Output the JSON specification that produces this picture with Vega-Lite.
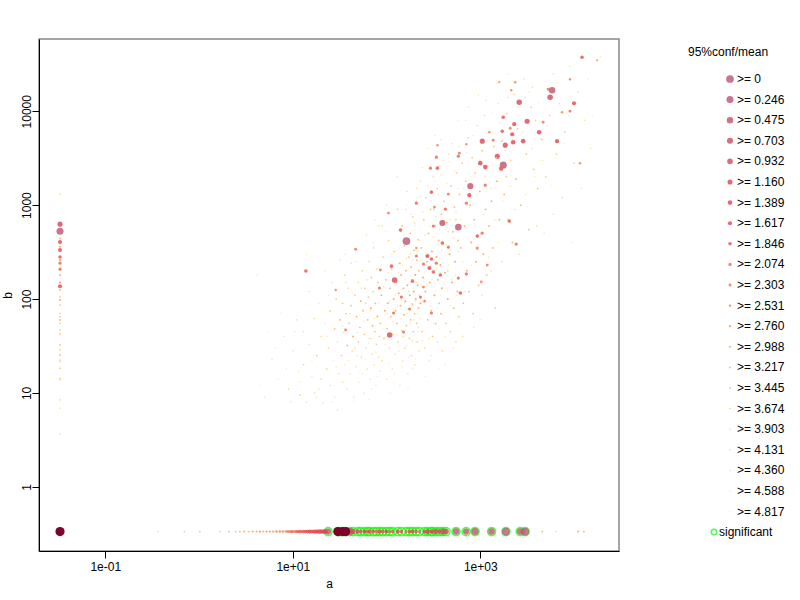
{
"$schema": "https://vega.github.io/schema/vega-lite/v6.json",
"width": 580, "height": 512,
"autosize": "none",
"padding": {"left": 39, "top": 39, "right": 181, "bottom": 49},
"background": "white",
"config": {
  "font": "Liberation Sans",
  "view": {"stroke": "#888888", "strokeWidth": 1.5},
  "axis": {"grid": false, "domainColor": "#000000", "tickColor": "#000000", "labelColor": "#000000", "titleColor": "#000000", "labelFontSize": 12, "titleFontSize": 12, "titleFontWeight": "normal", "tickSize": 7, "labelFont": "Liberation Sans", "titleFont": "Liberation Sans"},
  "legend": {"labelFontSize": 12, "titleFontSize": 12, "titleFontWeight": "normal", "labelColor": "#000000", "titleColor": "#000000", "padding": 0, "labelFont": "Liberation Sans", "titleFont": "Liberation Sans"}
},
"data": {"values": [
{"a":163,"b":414,"k":0},{"a":1757,"b":2665,"k":1},{"a":583,"b":583,"k":2},{"a":5834,"b":16720,"k":2},{"a":5560,"b":14090,"k":4},{"a":2600,"b":12470,"k":4},{"a":783,"b":1592,"k":3},{"a":394,"b":644,"k":3},{"a":122,"b":159,"k":4},{"a":108,"b":41.4,"k":4},{"a":1517,"b":3320,"k":5},{"a":1050,"b":4800,"k":5},{"a":1845,"b":4350,"k":5},{"a":2244,"b":4680,"k":6},{"a":2866,"b":4800,"k":6},{"a":3162,"b":7830,"k":5},{"a":4246,"b":5980,"k":6},{"a":6590,"b":4800,"k":7},{"a":10000,"b":12170,"k":7},{"a":12170,"b":37500,"k":8},{"a":2190,"b":5690,"k":7},{"a":1714,"b":6120,"k":8},{"a":2300,"b":7280,"k":7},{"a":1757,"b":8630,"k":8},{"a":1000,"b":2800,"k":6},{"a":1130,"b":2540,"k":6},{"a":764,"b":1277,"k":7},{"a":301,"b":1375,"k":8},{"a":340,"b":3240,"k":9},{"a":583,"b":3320,"k":9},{"a":294,"b":2477,"k":9},{"a":349,"b":2477,"k":8},{"a":1672,"b":2415,"k":8},{"a":1130,"b":1633,"k":9},{"a":710,"b":1050,"k":9},{"a":324,"b":953,"k":10},{"a":424,"b":906,"k":9},{"a":457,"b":1309,"k":10},{"a":208,"b":1050,"k":9},{"a":141,"b":542,"k":8},{"a":105,"b":822,"k":10},{"a":316,"b":598,"k":9},{"a":273,"b":287,"k":7},{"a":287,"b":214,"k":7},{"a":316,"b":194,"k":8},{"a":375,"b":180,"k":8},{"a":301,"b":267,"k":8},{"a":340,"b":241,"k":9},{"a":394,"b":394,"k":8},{"a":457,"b":357,"k":9},{"a":248,"b":236,"k":9},{"a":189,"b":155,"k":8},{"a":113,"b":224,"k":8},{"a":929,"b":468,"k":8},{"a":1050,"b":504,"k":9},{"a":929,"b":349,"k":9},{"a":2036,"b":676,"k":8},{"a":2415,"b":385,"k":9},{"a":613,"b":116,"k":8},{"a":710,"b":185,"k":9},{"a":583,"b":167,"k":9},{"a":248,"b":134,"k":10},{"a":144,"b":105,"k":9},{"a":208,"b":287,"k":9},{"a":86,"b":204,"k":10},{"a":46.8,"b":340,"k":10},{"a":13.8,"b":199,"k":8},{"a":119,"b":71,"k":9},{"a":152,"b":44.6,"k":9},{"a":36.6,"b":46.8,"k":10},{"a":28.7,"b":125,"k":11},{"a":176,"b":78.3,"k":9},{"a":230,"b":105,"k":9},{"a":254,"b":95,"k":10},{"a":301,"b":71,"k":9},{"a":1187,"b":230,"k":10},{"a":1025,"b":152,"k":10},{"a":4680,"b":7640,"k":10},{"a":7450,"b":9750,"k":11},{"a":9060,"b":10000,"k":10},{"a":11590,"b":2800,"k":11},{"a":9060,"b":21900,"k":11},{"a":17570,"b":34900,"k":12},{"a":5290,"b":17140,"k":10},{"a":2356,"b":20370,"k":11},{"a":1592,"b":20370,"k":12},{"a":2138,"b":16720,"k":11},{"a":349,"b":4350,"k":11},{"a":598,"b":3575,"k":10},{"a":710,"b":4460,"k":11},{"a":1375,"b":4910,"k":10},{"a":1247,"b":5980,"k":11},{"a":2084,"b":6590,"k":10},{"a":1633,"b":2477,"k":10},{"a":84,"b":131,"k":9},{"a":208,"b":349,"k":11},
{"a":4.2,"b":180,"k":18},{"a":5,"b":9,"k":19},{"a":6,"b":23,"k":18},{"a":7,"b":14,"k":20},{"a":8,"b":40,"k":19},{"a":9,"b":11,"k":17},{"a":10,"b":28,"k":19},{"a":11,"b":60,"k":18},{"a":11.5,"b":17,"k":20},{"a":5.5,"b":45,"k":21},{"a":7.5,"b":70,"k":20},{"a":9.5,"b":8,"k":19},{"a":12,"b":9.5,"k":16},{"a":4.5,"b":12,"k":21},
{"a":13,"b":20,"k":17},{"a":13,"b":45,"k":19},{"a":14,"b":8,"k":18},{"a":15,"b":120,"k":18},{"a":15,"b":33,"k":19},{"a":16,"b":15,"k":20},{"a":17,"b":62,"k":17},{"a":17,"b":10,"k":18},{"a":18,"b":25,"k":16},{"a":19,"b":90,"k":19},{"a":20,"b":40,"k":18},{"a":20,"b":14,"k":17},{"a":21,"b":7.8,"k":19},{"a":22,"b":55,"k":20},{"a":22,"b":200,"k":19},{"a":23,"b":18,"k":16},{"a":24,"b":30,"k":17},{"a":25,"b":75,"k":15},{"a":25,"b":12,"k":19},{"a":26,"b":150,"k":18},{"a":27,"b":22,"k":20},{"a":28,"b":48,"k":15},{"a":28,"b":9,"k":19},{"a":29,"b":100,"k":16},{"a":30,"b":35,"k":18},{"a":30,"b":6.6,"k":19},{"a":31,"b":16,"k":17},{"a":32,"b":60,"k":14},{"a":32,"b":260,"k":19},{"a":14,"b":300,"k":21},{"a":18,"b":9,"k":20},{"a":24,"b":110,"k":21},
{"a":33,"b":25,"k":16},{"a":34,"b":90,"k":15},{"a":34,"b":13,"k":18},{"a":35,"b":44,"k":17},{"a":36,"b":180,"k":16},{"a":36,"b":20,"k":19},{"a":37,"b":70,"k":15},{"a":38,"b":11,"k":18},{"a":38,"b":32,"k":14},{"a":39,"b":130,"k":17},{"a":40,"b":55,"k":16},{"a":41,"b":16,"k":19},{"a":42,"b":240,"k":18},{"a":42,"b":85,"k":15},{"a":43,"b":28,"k":17},{"a":44,"b":40,"k":13},{"a":45,"b":9,"k":19},{"a":46,"b":110,"k":16},{"a":47,"b":19,"k":18},{"a":48,"b":65,"k":14},{"a":49,"b":330,"k":19},{"a":50,"b":35,"k":16},{"a":50,"b":150,"k":17},{"a":51,"b":13,"k":20},{"a":52,"b":50,"k":15},{"a":53,"b":95,"k":13},{"a":54,"b":24,"k":17},{"a":55,"b":200,"k":16},{"a":56,"b":75,"k":14},{"a":57,"b":10,"k":19},{"a":58,"b":42,"k":15},{"a":59,"b":130,"k":16},{"a":60,"b":30,"k":18},{"a":61,"b":480,"k":18},{"a":62,"b":18,"k":17},{"a":63,"b":60,"k":14},{"a":64,"b":105,"k":15},{"a":65,"b":250,"k":17},{"a":66,"b":38,"k":16},{"a":67,"b":14,"k":19},{"a":68,"b":80,"k":13},{"a":69,"b":170,"k":15},{"a":70,"b":26,"k":17},{"a":71,"b":52,"k":14},{"a":72,"b":120,"k":16},{"a":73,"b":350,"k":17},{"a":74,"b":20,"k":18},{"a":75,"b":45,"k":15},{"a":76,"b":90,"k":14},{"a":77,"b":12,"k":19},{"a":78,"b":33,"k":16},{"a":79,"b":210,"k":16},{"a":80,"b":65,"k":13},{"a":81,"b":150,"k":15},{"a":82,"b":24,"k":17},{"a":83,"b":600,"k":19},{"a":84,"b":40,"k":16},{"a":36,"b":300,"k":20},{"a":45,"b":8,"k":21},{"a":55,"b":16,"k":20},{"a":65,"b":8.5,"k":20},{"a":75,"b":700,"k":20},{"a":60,"b":90,"k":17},{"a":48,"b":25,"k":19},{"a":70,"b":38,"k":20},{"a":80,"b":15,"k":21},
{"a":86,"b":55,"k":15},{"a":88,"b":110,"k":14},{"a":90,"b":22,"k":17},{"a":92,"b":280,"k":16},{"a":94,"b":38,"k":15},{"a":96,"b":75,"k":13},{"a":98,"b":160,"k":14},{"a":100,"b":14,"k":18},{"a":101,"b":48,"k":15},{"a":103,"b":90,"k":13},{"a":105,"b":420,"k":16},{"a":107,"b":30,"k":17},{"a":109,"b":130,"k":14},{"a":111,"b":65,"k":14},{"a":113,"b":210,"k":15},{"a":115,"b":18,"k":18},{"a":117,"b":42,"k":16},{"a":119,"b":100,"k":13},{"a":121,"b":320,"k":15},{"a":123,"b":26,"k":17},{"a":125,"b":75,"k":14},{"a":127,"b":150,"k":13},{"a":129,"b":55,"k":15},{"a":131,"b":900,"k":17},{"a":133,"b":35,"k":16},{"a":135,"b":115,"k":13},{"a":137,"b":240,"k":14},{"a":139,"b":12,"k":19},{"a":141,"b":85,"k":14},{"a":143,"b":180,"k":13},{"a":145,"b":46,"k":15},{"a":147,"b":600,"k":16},{"a":149,"b":22,"k":18},{"a":151,"b":130,"k":14},{"a":153,"b":68,"k":14},{"a":155,"b":370,"k":15},{"a":157,"b":30,"k":17},{"a":159,"b":95,"k":13},{"a":161,"b":200,"k":14},{"a":163,"b":52,"k":15},{"a":165,"b":1400,"k":18},{"a":167,"b":140,"k":13},{"a":169,"b":16,"k":19},{"a":171,"b":78,"k":14},{"a":173,"b":280,"k":15},{"a":175,"b":38,"k":16},{"a":177,"b":110,"k":13},{"a":179,"b":500,"k":15},{"a":181,"b":60,"k":14},{"a":183,"b":220,"k":14},{"a":185,"b":25,"k":17},{"a":187,"b":160,"k":13},{"a":189,"b":88,"k":14},{"a":191,"b":750,"k":16},{"a":193,"b":45,"k":15},{"a":195,"b":120,"k":13},{"a":197,"b":330,"k":14},{"a":199,"b":70,"k":14},{"a":201,"b":20,"k":18},{"a":203,"b":180,"k":13},{"a":205,"b":100,"k":13},{"a":207,"b":1100,"k":17},{"a":209,"b":55,"k":15},{"a":211,"b":260,"k":14},{"a":213,"b":35,"k":16},{"a":215,"b":140,"k":13},{"a":217,"b":430,"k":15},{"a":219,"b":80,"k":14},{"a":221,"b":200,"k":14},{"a":223,"b":28,"k":17},{"a":90,"b":600,"k":19},{"a":100,"b":1000,"k":20},{"a":110,"b":10,"k":20},{"a":120,"b":13,"k":21},{"a":130,"b":2000,"k":20},{"a":140,"b":240,"k":16},{"a":150,"b":40,"k":19},{"a":160,"b":900,"k":19},{"a":170,"b":11,"k":21},{"a":180,"b":300,"k":19},{"a":190,"b":18,"k":20},{"a":200,"b":650,"k":18},{"a":210,"b":1500,"k":19},{"a":220,"b":50,"k":19},
{"a":230,"b":90,"k":13},{"a":235,"b":350,"k":14},{"a":240,"b":45,"k":15},{"a":245,"b":170,"k":13},{"a":250,"b":700,"k":15},{"a":255,"b":30,"k":17},{"a":260,"b":120,"k":13},{"a":265,"b":1200,"k":16},{"a":270,"b":250,"k":14},{"a":275,"b":60,"k":14},{"a":280,"b":500,"k":14},{"a":285,"b":22,"k":18},{"a":290,"b":150,"k":13},{"a":295,"b":900,"k":15},{"a":300,"b":75,"k":14},{"a":305,"b":320,"k":13},{"a":310,"b":40,"k":16},{"a":315,"b":2000,"k":17},{"a":320,"b":200,"k":13},{"a":325,"b":110,"k":13},{"a":330,"b":600,"k":14},{"a":335,"b":55,"k":15},{"a":340,"b":280,"k":13},{"a":345,"b":1500,"k":16},{"a":350,"b":35,"k":17},{"a":355,"b":160,"k":13},{"a":360,"b":420,"k":14},{"a":365,"b":90,"k":14},{"a":370,"b":2600,"k":17},{"a":375,"b":230,"k":13},{"a":380,"b":70,"k":14},{"a":385,"b":800,"k":15},{"a":390,"b":130,"k":13},{"a":395,"b":28,"k":17},{"a":400,"b":380,"k":14},{"a":410,"b":1100,"k":15},{"a":420,"b":190,"k":13},{"a":430,"b":55,"k":15},{"a":440,"b":650,"k":14},{"a":450,"b":100,"k":13},{"a":460,"b":3500,"k":17},{"a":470,"b":300,"k":13},{"a":480,"b":45,"k":16},{"a":490,"b":1600,"k":15},{"a":500,"b":150,"k":13},{"a":510,"b":520,"k":14},{"a":520,"b":80,"k":14},{"a":530,"b":950,"k":15},{"a":540,"b":250,"k":13},{"a":550,"b":35,"k":17},{"a":560,"b":2200,"k":16},{"a":570,"b":120,"k":13},{"a":580,"b":420,"k":14},{"a":590,"b":65,"k":15},{"a":600,"b":1300,"k":15},{"a":240,"b":2500,"k":19},{"a":260,"b":15,"k":21},{"a":280,"b":4000,"k":20},{"a":300,"b":25,"k":20},{"a":330,"b":5500,"k":20},{"a":360,"b":18,"k":21},{"a":400,"b":3000,"k":19},{"a":450,"b":200,"k":16},{"a":500,"b":4500,"k":18},{"a":550,"b":700,"k":16},{"a":230,"b":1800,"k":18},{"a":320,"b":900,"k":16},{"a":380,"b":5000,"k":19},{"a":420,"b":20,"k":20},{"a":520,"b":30,"k":21},{"a":580,"b":8000,"k":20},
{"a":620,"b":350,"k":14},{"a":640,"b":2800,"k":16},{"a":660,"b":90,"k":14},{"a":680,"b":600,"k":14},{"a":700,"b":1800,"k":15},{"a":720,"b":200,"k":13},{"a":740,"b":5200,"k":17},{"a":760,"b":120,"k":14},{"a":780,"b":1000,"k":14},{"a":800,"b":400,"k":13},{"a":820,"b":3200,"k":16},{"a":840,"b":70,"k":15},{"a":860,"b":700,"k":14},{"a":880,"b":2200,"k":15},{"a":900,"b":250,"k":13},{"a":930,"b":7000,"k":17},{"a":960,"b":140,"k":14},{"a":990,"b":1400,"k":14},{"a":1020,"b":500,"k":13},{"a":1050,"b":3800,"k":15},{"a":1080,"b":300,"k":13},{"a":1110,"b":9000,"k":17},{"a":1140,"b":900,"k":14},{"a":1170,"b":180,"k":14},{"a":1200,"b":2600,"k":15},{"a":1240,"b":600,"k":14},{"a":1280,"b":6000,"k":16},{"a":1320,"b":1100,"k":14},{"a":1360,"b":350,"k":14},{"a":1400,"b":4200,"k":15},{"a":1450,"b":80,"k":16},{"a":1500,"b":1800,"k":14},{"a":1550,"b":12000,"k":18},{"a":1600,"b":700,"k":14},{"a":650,"b":40,"k":18},{"a":750,"b":11000,"k":19},{"a":850,"b":50,"k":19},{"a":950,"b":15000,"k":20},{"a":1050,"b":110,"k":18},{"a":1150,"b":13000,"k":19},{"a":1300,"b":200,"k":17},{"a":1500,"b":20000,"k":20},{"a":700,"b":8000,"k":19},{"a":1000,"b":60,"k":20},
{"a":1700,"b":4800,"k":15},{"a":1800,"b":1300,"k":14},{"a":1900,"b":9500,"k":16},{"a":2000,"b":700,"k":14},{"a":2100,"b":3000,"k":15},{"a":2200,"b":400,"k":14},{"a":2300,"b":15000,"k":17},{"a":2400,"b":1900,"k":14},{"a":2500,"b":6500,"k":15},{"a":2700,"b":1000,"k":14},{"a":2900,"b":22000,"k":18},{"a":3100,"b":3500,"k":15},{"a":3300,"b":550,"k":15},{"a":3500,"b":11000,"k":16},{"a":3700,"b":2400,"k":15},{"a":3900,"b":8000,"k":16},{"a":4100,"b":1500,"k":15},{"a":1700,"b":250,"k":17},{"a":2000,"b":25000,"k":20},{"a":2600,"b":300,"k":18},{"a":3000,"b":14000,"k":17},{"a":3600,"b":18000,"k":18},{"a":4000,"b":600,"k":17},{"a":2300,"b":5500,"k":16},{"a":1900,"b":2000,"k":15},
{"a":4500,"b":5000,"k":15},{"a":5000,"b":2000,"k":16},{"a":5500,"b":9000,"k":16},{"a":6000,"b":25000,"k":18},{"a":6500,"b":3500,"k":16},{"a":7000,"b":12000,"k":17},{"a":7500,"b":1200,"k":17},{"a":8000,"b":6000,"k":16},{"a":9000,"b":30000,"k":19},{"a":10000,"b":2800,"k":17},{"a":11000,"b":16000,"k":18},{"a":13000,"b":8000,"k":18},{"a":15000,"b":4000,"k":19},{"a":4800,"b":500,"k":19},{"a":6000,"b":800,"k":19},{"a":9500,"b":400,"k":20},{"a":12000,"b":1500,"k":20},{"a":19000,"b":38000,"k":19},
{"a":34,"b":52,"k":20},{"a":37,"b":150,"k":19},{"a":39,"b":22,"k":21},{"a":41,"b":70,"k":18},{"a":43,"b":115,"k":20},{"a":46,"b":30,"k":19},{"a":47,"b":250,"k":21},{"a":49,"b":44,"k":20},{"a":52,"b":17,"k":21},{"a":54,"b":130,"k":19},{"a":57,"b":58,"k":20},{"a":59,"b":23,"k":21},{"a":62,"b":160,"k":19},{"a":64,"b":34,"k":20},{"a":67,"b":75,"k":19},{"a":69,"b":11,"k":21},{"a":72,"b":400,"k":20},{"a":74,"b":62,"k":19},{"a":77,"b":27,"k":20},{"a":79,"b":140,"k":21},{"a":83,"b":90,"k":20},{"a":85,"b":17,"k":19},{"a":88,"b":230,"k":20},{"a":91,"b":48,"k":21},{"a":93,"b":135,"k":19},{"a":97,"b":33,"k":20},{"a":99,"b":520,"k":21},{"a":102,"b":70,"k":19},{"a":104,"b":190,"k":20},{"a":106,"b":21,"k":21},{"a":108,"b":95,"k":19},{"a":112,"b":38,"k":20},{"a":114,"b":300,"k":19},{"a":116,"b":58,"k":21},{"a":118,"b":150,"k":20},{"a":122,"b":16,"k":19},{"a":124,"b":110,"k":20},{"a":126,"b":620,"k":21},{"a":128,"b":42,"k":19},{"a":132,"b":85,"k":20},{"a":134,"b":190,"k":21},{"a":136,"b":28,"k":19},{"a":138,"b":350,"k":20},{"a":142,"b":62,"k":21},{"a":144,"b":125,"k":19},{"a":146,"b":19,"k":20},{"a":148,"b":230,"k":19},{"a":152,"b":40,"k":20},{"a":154,"b":480,"k":21},{"a":156,"b":92,"k":19},{"a":158,"b":160,"k":20},{"a":162,"b":32,"k":21},{"a":164,"b":270,"k":19},{"a":166,"b":70,"k":20},{"a":168,"b":1000,"k":21},{"a":172,"b":120,"k":19},{"a":174,"b":24,"k":20},{"a":176,"b":380,"k":19},{"a":178,"b":55,"k":21},{"a":182,"b":175,"k":20},{"a":184,"b":800,"k":19},{"a":186,"b":85,"k":21},{"a":188,"b":36,"k":19},{"a":192,"b":260,"k":20},{"a":194,"b":130,"k":21},{"a":196,"b":60,"k":19},{"a":198,"b":540,"k":20},{"a":202,"b":95,"k":19},{"a":204,"b":23,"k":21},{"a":206,"b":330,"k":20},{"a":208,"b":150,"k":19},{"a":212,"b":70,"k":20},{"a":214,"b":1200,"k":19},{"a":216,"b":45,"k":21},{"a":218,"b":200,"k":20},{"a":222,"b":110,"k":19},{"a":226,"b":420,"k":21},{"a":228,"b":62,"k":20},{"a":232,"b":260,"k":19},{"a":236,"b":140,"k":20},{"a":238,"b":36,"k":21},{"a":242,"b":850,"k":19},{"a":246,"b":95,"k":20},{"a":252,"b":190,"k":21},{"a":256,"b":480,"k":19},{"a":262,"b":70,"k":20},{"a":266,"b":300,"k":19},{"a":272,"b":140,"k":21},{"a":276,"b":1600,"k":20},{"a":282,"b":38,"k":19},{"a":286,"b":600,"k":20},{"a":292,"b":230,"k":21},{"a":296,"b":85,"k":19},{"a":302,"b":1100,"k":20},{"a":306,"b":160,"k":19},{"a":312,"b":460,"k":21},{"a":318,"b":55,"k":20},{"a":322,"b":260,"k":19},{"a":328,"b":1800,"k":21},{"a":334,"b":120,"k":20},{"a":338,"b":750,"k":19},{"a":344,"b":210,"k":20},{"a":348,"b":80,"k":21},{"a":352,"b":380,"k":19},{"a":358,"b":1300,"k":20},{"a":362,"b":48,"k":21},{"a":368,"b":550,"k":19},{"a":372,"b":190,"k":20},{"a":378,"b":110,"k":21},{"a":382,"b":2100,"k":19},{"a":388,"b":330,"k":20},{"a":392,"b":68,"k":19},{"a":398,"b":900,"k":21},{"a":405,"b":240,"k":20},{"a":412,"b":150,"k":19},{"a":418,"b":600,"k":20},{"a":424,"b":40,"k":21},{"a":432,"b":380,"k":19},{"a":438,"b":1700,"k":20},{"a":444,"b":130,"k":21},{"a":452,"b":520,"k":19},{"a":458,"b":230,"k":20},{"a":464,"b":2900,"k":21},{"a":472,"b":85,"k":19},{"a":478,"b":700,"k":20},{"a":486,"b":330,"k":21},{"a":494,"b":160,"k":19},{"a":502,"b":1200,"k":20},{"a":512,"b":60,"k":21},{"a":522,"b":450,"k":19},{"a":532,"b":2300,"k":20},{"a":542,"b":180,"k":21},{"a":552,"b":850,"k":19},{"a":562,"b":110,"k":20},{"a":572,"b":1500,"k":21},{"a":584,"b":320,"k":19},{"a":596,"b":4200,"k":20},{"a":610,"b":55,"k":21},{"a":625,"b":700,"k":19},{"a":645,"b":250,"k":20},{"a":665,"b":1500,"k":21},{"a":690,"b":120,"k":19},{"a":715,"b":3600,"k":20},{"a":735,"b":450,"k":21},{"a":765,"b":950,"k":19},{"a":790,"b":2000,"k":20},{"a":815,"b":230,"k":21},{"a":845,"b":5500,"k":19},{"a":875,"b":600,"k":20},{"a":905,"b":1300,"k":21},{"a":945,"b":350,"k":19},{"a":985,"b":3000,"k":20},{"a":1030,"b":150,"k":21},{"a":1075,"b":800,"k":19},{"a":1125,"b":2000,"k":20},{"a":1180,"b":4800,"k":21},{"a":1230,"b":280,"k":19},{"a":1290,"b":1500,"k":20},{"a":1350,"b":9500,"k":21},{"a":1420,"b":700,"k":19},{"a":1480,"b":3200,"k":20},{"a":1560,"b":400,"k":21},{"a":1650,"b":7500,"k":19},{"a":1750,"b":1100,"k":20},{"a":1850,"b":3800,"k":21},{"a":1960,"b":14000,"k":19},{"a":2080,"b":1600,"k":20},{"a":2200,"b":5000,"k":21},{"a":2350,"b":900,"k":19},{"a":2500,"b":11000,"k":20},{"a":2650,"b":2800,"k":21},{"a":2850,"b":6000,"k":19},{"a":3050,"b":1300,"k":20},{"a":3300,"b":16000,"k":21},{"a":3550,"b":4000,"k":19},{"a":3800,"b":2000,"k":20},{"a":4200,"b":12000,"k":21},{"a":4600,"b":3000,"k":19},{"a":5200,"b":7000,"k":20},{"a":5800,"b":1600,"k":21},{"a":6800,"b":20000,"k":19},{"a":7800,"b":4500,"k":20},{"a":8800,"b":9000,"k":21},{"a":14000,"b":22000,"k":20},{"a":16000,"b":9000,"k":21},
{"a":12,"b":13,"k":20},{"a":16,"b":22,"k":21},{"a":19,"b":11,"k":19},{"a":23,"b":40,"k":20},{"a":26,"b":8,"k":21},{"a":29,"b":19,"k":19},{"a":8.5,"b":18,"k":20},{"a":6.5,"b":30,"k":21},{"a":10.5,"b":45,"k":20},
{"a":0.0329,"b":528,"k":1},{"a":0.0329,"b":627,"k":5},{"a":0.0329,"b":404,"k":7},{"a":0.0329,"b":333,"k":7},{"a":0.0329,"b":280,"k":8},{"a":0.0329,"b":241,"k":9},{"a":0.0329,"b":208,"k":9},{"a":0.0329,"b":137,"k":7},{"a":0.0329,"b":1309,"k":17},{"a":0.0329,"b":443,"k":14},{"a":0.0329,"b":360,"k":13},{"a":0.0329,"b":260,"k":12},{"a":0.0329,"b":180,"k":13},{"a":0.0329,"b":150,"k":12},{"a":0.0329,"b":125,"k":14},{"a":0.0329,"b":106,"k":15},{"a":0.0329,"b":97.6,"k":13},{"a":0.0329,"b":86.3,"k":15},{"a":0.0329,"b":70.4,"k":16},{"a":0.0329,"b":64.9,"k":15},{"a":0.0329,"b":59.8,"k":14},{"a":0.0329,"b":55.1,"k":16},{"a":0.0329,"b":46.8,"k":15},{"a":0.0329,"b":43.1,"k":16},{"a":0.0329,"b":41.4,"k":17},{"a":0.0329,"b":32.4,"k":15},{"a":0.0329,"b":28.7,"k":16},{"a":0.0329,"b":25.4,"k":14},{"a":0.0329,"b":22.4,"k":16},{"a":0.0329,"b":21.5,"k":17},{"a":0.0329,"b":18.3,"k":15},{"a":0.0329,"b":14.3,"k":16},{"a":0.0329,"b":13.8,"k":17},{"a":0.0329,"b":8.43,"k":17},{"a":0.0329,"b":6.87,"k":18},{"a":0.0329,"b":3.66,"k":18},
{"a":0.0329,"b":0.334,"k":22},
{"a":0.364,"b":0.334,"k":17},{"a":0.698,"b":0.334,"k":16},{"a":1.02,"b":0.334,"k":15},{"a":1.67,"b":0.334,"k":16},{"a":2.08,"b":0.334,"k":14},{"a":2.46,"b":0.334,"k":15},{"a":2.73,"b":0.334,"k":14},{"a":3.03,"b":0.334,"k":13},{"a":3.38,"b":0.334,"k":14},{"a":3.73,"b":0.334,"k":13},{"a":4.11,"b":0.334,"k":13},{"a":4.46,"b":0.334,"k":12},{"a":4.83,"b":0.334,"k":13},{"a":5.25,"b":0.334,"k":12},{"a":5.69,"b":0.334,"k":12},{"a":6.17,"b":0.334,"k":12},{"a":6.71,"b":0.334,"k":11},{"a":7.27,"b":0.334,"k":11},{"a":7.83,"b":0.334,"k":11},{"a":8.43,"b":0.334,"k":11},
{"a":8.85,"b":0.334,"k":10},{"a":9.29,"b":0.334,"k":10},{"a":9.75,"b":0.334,"k":9},{"a":10.2,"b":0.334,"k":10},{"a":10.8,"b":0.334,"k":9},{"a":11.3,"b":0.334,"k":9},{"a":11.9,"b":0.334,"k":8},{"a":12.5,"b":0.334,"k":9},{"a":13.1,"b":0.334,"k":8},{"a":13.8,"b":0.334,"k":8},{"a":14.4,"b":0.334,"k":8},{"a":15.2,"b":0.334,"k":7},{"a":15.9,"b":0.334,"k":8},{"a":16.7,"b":0.334,"k":7},{"a":17.6,"b":0.334,"k":7},{"a":18.4,"b":0.334,"k":7},{"a":19.4,"b":0.334,"k":6},{"a":20.3,"b":0.334,"k":7},{"a":21.4,"b":0.334,"k":6},{"a":22.4,"b":0.334,"k":6},
{"a":23.8,"b":0.334,"k":3,"s":"significant"},{"a":30.3,"b":0.334,"k":22,"s":"significant"},{"a":31.6,"b":0.334,"k":2,"s":"significant"},{"a":34.0,"b":0.334,"k":22,"s":"significant"},{"a":36.6,"b":0.334,"k":22,"s":"significant"},{"a":40.4,"b":0.334,"k":1,"s":"significant"},{"a":43.8,"b":0.334,"k":4,"s":"significant"},{"a":49.5,"b":0.334,"k":6,"s":"significant"},{"a":52.9,"b":0.334,"k":8,"s":"significant"},{"a":58.3,"b":0.334,"k":7,"s":"significant"},{"a":62.8,"b":0.334,"k":8,"s":"significant"},{"a":65.9,"b":0.334,"k":7,"s":"significant"},{"a":72.7,"b":0.334,"k":8,"s":"significant"},{"a":78.3,"b":0.334,"k":9,"s":"significant"},{"a":84.3,"b":0.334,"k":7,"s":"significant"},{"a":90.6,"b":0.334,"k":8,"s":"significant"},{"a":99.3,"b":0.334,"k":7,"s":"significant"},{"a":108,"b":0.334,"k":9,"s":"significant"},{"a":116,"b":0.334,"k":8,"s":"significant"},{"a":132,"b":0.334,"k":7,"s":"significant"},{"a":144,"b":0.334,"k":8,"s":"significant"},{"a":162,"b":0.334,"k":9,"s":"significant"},{"a":176,"b":0.334,"k":8,"s":"significant"},{"a":189,"b":0.334,"k":7,"s":"significant"},{"a":207,"b":0.334,"k":8,"s":"significant"},{"a":224,"b":0.334,"k":9,"s":"significant"},{"a":254,"b":0.334,"k":7,"s":"significant"},{"a":273,"b":0.334,"k":5,"s":"significant"},{"a":299,"b":0.334,"k":8,"s":"significant"},{"a":308,"b":0.334,"k":6,"s":"significant"},{"a":338,"b":0.334,"k":4,"s":"significant"},{"a":366,"b":0.334,"k":7,"s":"significant"},{"a":397,"b":0.334,"k":3,"s":"significant"},{"a":432,"b":0.334,"k":4,"s":"significant"},{"a":551,"b":0.334,"k":2,"s":"significant"},{"a":705,"b":0.334,"k":3,"s":"significant"},{"a":879,"b":0.334,"k":1,"s":"significant"},{"a":1318,"b":0.334,"k":2,"s":"significant"},{"a":1876,"b":0.334,"k":0,"s":"significant"},{"a":2665,"b":0.334,"k":2,"s":"significant"},{"a":3010,"b":0.334,"k":0,"s":"significant"},
{"a":4570,"b":0.334,"k":14},{"a":6400,"b":0.334,"k":17},{"a":11040,"b":0.334,"k":13},{"a":12770,"b":0.334,"k":14}
]},
"encoding": {
  "x": {"field": "a", "type": "quantitative", "scale": {"type": "log", "domain": [0.01963, 30170], "nice": false},
        "axis": {"title": "a", "values": [0.1, 10, 1000], "labelExpr": "datum.value < 1 ? '1e-01' : (datum.value < 100 ? '1e+01' : '1e+03')", "labelPadding": 3, "titlePadding": 6}},
  "y": {"field": "b", "type": "quantitative", "scale": {"type": "log", "domain": [0.2075, 58750], "nice": false},
        "axis": {"title": "b", "values": [1, 10, 100, 1000, 10000], "labelExpr": "format(datum.value, 'd')", "labelAngle": 270, "labelAlign": "center", "labelBaseline": "alphabetic", "labelPadding": 2, "titlePadding": 6}}
},
"layer": [
  {"transform": [{"filter": "isValid(datum.s)"}],
   "mark": {"type": "point", "shape": "circle", "filled": false, "size": 64, "strokeWidth": 1.6},
   "encoding": {"stroke": {"field": "s", "type": "nominal", "scale": {"domain": ["significant"], "range": ["#00ff00"]},
     "legend": {"title": null, "orient": "none", "legendX": 669, "legendY": 487, "symbolType": "circle", "symbolSize": 30, "symbolStrokeWidth": 1.5, "labelOffset": -1, "symbolOffset": 0}}}},
  {"transform": [{"filter": "datum.k < 22"}],
   "mark": {"type": "point", "shape": "circle", "filled": true, "opacity": 0.8, "strokeWidth": 0},
   "encoding": {
     "color": {"field": "k", "type": "ordinal",
       "scale": {"domain": [0,1,2,3,4,5,6,7,8,9,10,11,12,13,14,15,16,17,18,19,20,21],
                 "range": ["#b65775","#bc5470","#c4506a","#cb4c64","#d3485e","#da4558","#e04352","#e5434c","#e84f4a","#eb5e48","#ee6d47","#f07d47","#f28d48","#f49c4b","#f5aa51","#f7b75a","#f8c264","#f9cc70","#fad47d","#fbdb8a","#fce198","#fde6a6"]},
       "legend": {"title": "95%conf/mean", "orient": "none", "legendX": 649, "legendY": 8, "values": [0,1,2,3,4,5,6,7,8,9,10,11,12,13,14,15,16,17,18,19,20,21],
         "labelExpr": "['>= 0','>= 0.246','>= 0.475','>= 0.703','>= 0.932','>= 1.160','>= 1.389','>= 1.617','>= 1.846','>= 2.074','>= 2.303','>= 2.531','>= 2.760','>= 2.988','>= 3.217','>= 3.445','>= 3.674','>= 3.903','>= 4.131','>= 4.360','>= 4.588','>= 4.817'][datum.value]",
         "symbolType": "circle", "symbolOffset": 36, "labelOffset": 1, "rowPadding": 8.6, "titlePadding": 14, "symbolStrokeWidth": 0}},
     "size": {"field": "k", "type": "quantitative",
       "scale": {"domain": [0,1,2,3,4,5,6,7,8,9,10,11,12,13,14,15,16,17,18,19,20,21],
                 "range": [60,50,43,37,31,26,21,17,13,10,8,6,4.8,3.9,3.4,3.1,2.9,2.7,2.5,2.4,2.3,2.2]},
       "legend": {"title": "95%conf/mean", "orient": "none", "legendX": 649, "legendY": 8, "values": [0,1,2,3,4,5,6,7,8,9,10,11,12,13,14,15,16,17,18,19,20,21],
         "labelExpr": "['>= 0','>= 0.246','>= 0.475','>= 0.703','>= 0.932','>= 1.160','>= 1.389','>= 1.617','>= 1.846','>= 2.074','>= 2.303','>= 2.531','>= 2.760','>= 2.988','>= 3.217','>= 3.445','>= 3.674','>= 3.903','>= 4.131','>= 4.360','>= 4.588','>= 4.817'][datum.value]",
         "symbolType": "circle", "symbolOffset": 36, "labelOffset": 1, "rowPadding": 8.6, "titlePadding": 14, "symbolStrokeWidth": 0}}
   }},
  {"transform": [{"filter": "datum.k == 22"}],
   "mark": {"type": "point", "shape": "circle", "filled": true, "color": "#7e0328", "opacity": 1, "size": 85, "strokeWidth": 0}}
]
}
